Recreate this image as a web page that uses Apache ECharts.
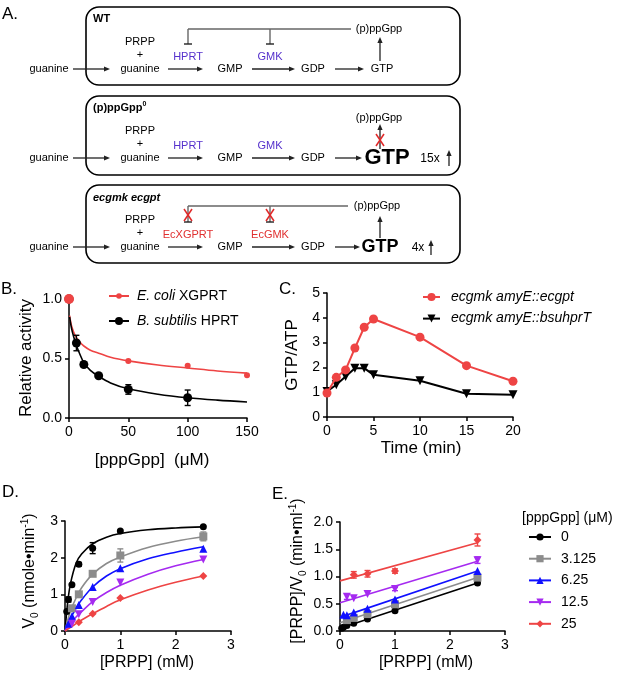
<!DOCTYPE html>
<html lang="en">
<head>
<meta charset="utf-8">
<title>GTP / pppGpp panels</title>
<style>
  * { padding: 0; margin: 0; }
  html, body { background: #fff; width: 617px; height: 677px; overflow: hidden; }
  #fig { position: absolute; left: 0; top: 0; width: 617px; height: 677px; }
</style>
</head>
<body>
<div id="fig"></div>
<script src="https://cdn.jsdelivr.net/npm/echarts@6/dist/echarts.min.js"></script>
<script>
var FONT = "'Liberation Sans', Arial, Helvetica, sans-serif";
var RED = '#ee4444', GRAY = '#8c8c8c', BLUE = '#1010ff', PURPLE = '#a52af0';

// ---- B: relative activity vs [pppGpp] ----
var bDoseEcoli = [0, 50, 100, 150];
var bActEcoli  = [1.0, 0.48, 0.44, 0.36];
var bDoseBsu   = [0, 6.25, 12.5, 25, 50, 100];
var bActBsu    = [1.0, 0.63, 0.45, 0.355, 0.24, 0.17];
var bErrBsu    = [0, 0.065, 0.02, 0.015, 0.04, 0.065];
// fitted curves
var bFitDose   = [0.5, 2, 4, 6.25, 9, 12.5, 18, 25, 35, 50, 75, 100, 125, 150];
var bFitEcoli  = [0.86, 0.78, 0.72, 0.675, 0.64, 0.605, 0.57, 0.545, 0.51, 0.48, 0.445, 0.42, 0.395, 0.377];
var bFitBsu    = [0.85, 0.76, 0.68, 0.61, 0.54, 0.465, 0.4, 0.35, 0.295, 0.245, 0.2, 0.17, 0.15, 0.135];

// ---- C: GTP/ATP over time ----
var cTime    = [0, 1, 2, 3, 4, 5, 10, 15, 20];
var cEcgpt   = [0.97, 1.6, 1.9, 2.78, 3.62, 3.95, 3.22, 2.07, 1.44];
var cBsuhprT = [1.03, 1.3, 1.63, 1.97, 1.97, 1.7, 1.46, 0.94, 0.9];

// ---- D: V0 vs [PRPP] for each [pppGpp] ----
var levels = ['0', '3.125', '6.25', '12.5', '25'];
var dPrpp0  = [0.03125, 0.0625, 0.125, 0.25, 0.5, 1, 2.5];
var dV0_0   = [0.53, 0.86, 1.26, 1.82, 2.26, 2.73, 2.84];
var dErr0   = [0, 0.07, 0, 0.05, 0.15, 0, 0];
var dPrpp3  = [0.125, 0.25, 0.5, 1, 2.5];
var dV0_3   = [0.62, 1.0, 1.56, 2.06, 2.58];
var dErr3   = [0, 0, 0, 0.18, 0.12];
var dPrpp6  = [0.0625, 0.125, 0.25, 0.5, 1, 2.5];
var dV0_6   = [0.2, 0.4, 0.71, 1.2, 1.71, 2.24];
var dPrpp12 = [0.125, 0.25, 0.5, 1, 2.5];
var dV0_12  = [0.2, 0.46, 0.79, 1.32, 1.95];
var dPrpp25 = [0.25, 0.5, 1, 2.5];
var dV0_25  = [0.24, 0.47, 0.9, 1.5];
var dFitX   = [0, 0.05, 0.1, 0.2, 0.3, 0.5, 0.75, 1, 1.5, 2, 2.5];
var dFit0   = [0, 0.8, 1.3, 1.85, 2.1, 2.38, 2.56, 2.66, 2.76, 2.81, 2.84];
var dFit3   = [0, 0.3, 0.55, 0.9, 1.18, 1.55, 1.84, 2.02, 2.28, 2.45, 2.57];
var dFit6   = [0, 0.18, 0.35, 0.62, 0.85, 1.2, 1.5, 1.7, 1.97, 2.15, 2.3];
var dFit12  = [0, 0.1, 0.2, 0.38, 0.53, 0.8, 1.05, 1.25, 1.55, 1.78, 1.95];
var dFit25  = [0, 0.05, 0.1, 0.2, 0.3, 0.47, 0.67, 0.85, 1.12, 1.33, 1.5];

// ---- E: [PRPP]/V0 vs [PRPP] ----
var eY0    = [0.05, 0.07, 0.1, 0.14, 0.22, 0.37, 0.88];
var eY3    = [0.2, 0.24, 0.31, 0.49, 0.98];
var eY6    = [0.3, 0.29, 0.34, 0.41, 0.58, 1.1];
var eY12   = [0.63, 0.6, 0.68, 0.77, 1.3];
var eErr12 = [0.05, 0, 0, 0.03, 0.06];
var eY25   = [1.03, 1.05, 1.1, 1.67];
var eErr25 = [0.06, 0.06, 0.04, 0.11];
var eFitX  = [0, 2.5];
var eFit0  = [0.05, 0.88];
var eFit3  = [0.15, 0.98];
var eFit6  = [0.25, 1.1];
var eFit12 = [0.52, 1.28];
var eFit25 = [0.92, 1.62];

function zip(xs, ys) { return xs.map(function (x, i) { return [x, ys[i]]; }); }
function bars(xs, ys, es) {
  var out = [];
  xs.forEach(function (x, i) { if (es[i]) out.push([x, ys[i] - es[i], ys[i] + es[i]]); });
  return out;
}
function errRender(params, api) {
  var x = api.value(0);
  var a = api.coord([x, api.value(1)]), b = api.coord([x, api.value(2)]);
  var st = { stroke: api.visual('color'), lineWidth: 1.4 };
  return { type: 'group', children: [
    { type: 'line', shape: { x1: a[0], y1: a[1], x2: b[0], y2: b[1] }, style: st },
    { type: 'line', shape: { x1: a[0] - 3, y1: a[1], x2: a[0] + 3, y2: a[1] }, style: st },
    { type: 'line', shape: { x1: b[0] - 3, y1: b[1], x2: b[0] + 3, y2: b[1] }, style: st }
  ] };
}
function errSeries(idx, data, color) {
  return { type: 'custom', xAxisIndex: idx, yAxisIndex: idx, renderItem: errRender,
    encode: { x: 0, y: [1, 2] }, itemStyle: { color: color }, data: data, z: 4 };
}
function fit(idx, name, xs, ys, color, sym, size, rot) {
  return { name: name, type: 'line', xAxisIndex: idx, yAxisIndex: idx, data: zip(xs, ys),
    smooth: 0.35, showSymbol: false, symbol: sym, symbolSize: size, symbolRotate: rot || 0,
    lineStyle: { color: color, width: 1.6 }, itemStyle: { color: color }, z: 3 };
}
function pts(idx, name, xs, ys, color, sym, size, rot) {
  return { name: name, type: 'scatter', xAxisIndex: idx, yAxisIndex: idx, data: zip(xs, ys),
    symbol: sym, symbolSize: size, symbolRotate: rot || 0, itemStyle: { color: color, opacity: 1 }, z: 5 };
}
function axis(idx, max, interval, fmt) {
  return { type: 'value', gridIndex: idx, min: 0, max: max, interval: interval,
    axisLine: { show: true, onZero: false, lineStyle: { color: '#000', width: 1.5 } },
    axisTick: { show: true, length: 4, lineStyle: { color: '#000', width: 1.5 } },
    axisLabel: { color: '#000', fontSize: 14, fontFamily: FONT, margin: 7, formatter: fmt },
    splitLine: { show: false } };
}
function fixed1(v) { return v.toFixed(1); }

// ---- panel A schematic helpers ----
var A = [];
function T(x, y, s, o) {
  o = o || {};
  A.push({ type: 'text', x: x, y: y, rotation: o.rot || 0, silent: true,
    style: { text: s, fill: o.color || '#000', fontSize: o.size || 11, fontFamily: FONT,
      fontWeight: o.weight || 'normal', fontStyle: o.style || 'normal',
      align: o.align || 'center', verticalAlign: 'middle', rich: o.rich } });
}
function L(x1, y1, x2, y2, color, w) {
  A.push({ type: 'line', silent: true, shape: { x1: x1, y1: y1, x2: x2, y2: y2 },
    style: { stroke: color || '#222', lineWidth: w || 1.2 } });
}
function arrow(x1, y1, x2, y2) {
  var dx = x2 - x1, dy = y2 - y1, len = Math.sqrt(dx * dx + dy * dy);
  var ux = dx / len, uy = dy / len, h = 6, hw = 2.6;
  L(x1, y1, x2 - ux * h, y2 - uy * h, '#222', 1.3);
  A.push({ type: 'polygon', silent: true, shape: { points: [[x2, y2],
    [x2 - ux * h - uy * hw, y2 - uy * h + ux * hw], [x2 - ux * h + uy * hw, y2 - uy * h - ux * hw]] },
    style: { fill: '#222' } });
}
function tbar(x, y1, y2) { L(x, y1, x, y2, '#666', 1.4); L(x - 4, y2, x + 4, y2, '#222', 1.4); }
function cross(x, y) { L(x - 4, y - 6, x + 4, y + 6, '#e02828', 1.5); L(x + 4, y - 6, x - 4, y + 6, '#e02828', 1.5); }
function box(y, h) {
  A.push({ type: 'rect', silent: true, shape: { x: 86, y: y, width: 374, height: h, r: 13 },
    style: { fill: 'none', stroke: '#000', lineWidth: 1.6 } });
}
function row(dy, enz1, enz2, enzColor) {
  T(49, 69 + dy, 'guanine'); arrow(73, 69 + dy, 110, 69 + dy);
  T(140, 42 + dy, 'PRPP'); T(140, 55 + dy, '+'); T(140, 69 + dy, 'guanine');
  T(188, 57 + dy, enz1, { color: enzColor }); arrow(168, 69 + dy, 203, 69 + dy);
  T(230, 69 + dy, 'GMP'); T(270, 57 + dy, enz2, { color: enzColor }); arrow(252, 69 + dy, 295, 69 + dy);
  T(313, 69 + dy, 'GDP');
}

T(2, 14, 'A.', { size: 17, align: 'left' });
// WT
box(7, 78);
T(93, 19, 'WT', { weight: 'bold', align: 'left' });
T(379, 29, '(p)ppGpp');
L(351, 29, 188, 29, '#666', 1.4); tbar(188, 29, 44); tbar(270, 29, 44);
arrow(380, 61, 380, 37);
row(0, 'HPRT', 'GMK', '#5530cc');
arrow(335, 69, 364, 69); T(382, 69, 'GTP');
// (p)ppGpp0
box(96, 79);
T(93, 108, '{b|(p)ppGpp}{s|0}', { align: 'left', rich: {
  b: { fontWeight: 'bold', fontSize: 11, fontFamily: FONT, lineHeight: 14 },
  s: { fontWeight: 'bold', fontSize: 7, fontFamily: FONT, verticalAlign: 'top', lineHeight: 8 } } });
T(379, 118, '(p)ppGpp');
arrow(380, 149, 380, 124); cross(380, 140);
row(89, 'HPRT', 'GMK', '#5530cc');
arrow(335, 158, 362, 158); T(387, 158, 'GTP', { weight: 'bold', size: 22 });
T(430, 159, '15x', { size: 12 }); arrow(449, 166, 449, 150);
// ecgmk ecgpt
box(185, 78);
T(93, 198, 'ecgmk ecgpt', { weight: 'bold', style: 'italic', align: 'left' });
T(377, 206, '(p)ppGpp');
L(348, 206, 188, 206, '#666', 1.4); tbar(188, 206, 222); tbar(270, 206, 222);
cross(188, 215); cross(270, 215);
arrow(380, 238, 380, 216);
row(178, 'EcXGPRT', 'EcGMK', '#e03030');
arrow(335, 247, 360, 247); T(380, 247, 'GTP', { weight: 'bold', size: 18 });
T(418, 248, '4x', { size: 12 }); arrow(431, 255, 431, 240);

// panel letters and axis titles
T(1, 289, 'B.', { size: 17, align: 'left' });
T(279, 289, 'C.', { size: 17, align: 'left' });
T(2, 492, 'D.', { size: 17, align: 'left' });
T(272, 494, 'E.', { size: 17, align: 'left' });
T(26, 358, 'Relative activity', { size: 17, rot: Math.PI / 2 });
T(152, 460, '[pppGpp]  (\u03bcM)', { size: 17 });
T(292, 355, 'GTP/ATP', { size: 17, rot: Math.PI / 2 });
T(421, 448, 'Time (min)', { size: 17 });
var subSup = {
  m: { fontSize: 16, fontFamily: FONT, lineHeight: 20 },
  d: { fontSize: 10, fontFamily: FONT, verticalAlign: 'bottom', lineHeight: 10 },
  u: { fontSize: 10, fontFamily: FONT, verticalAlign: 'top', lineHeight: 10 } };
T(30, 571, '{m|V}{d|0}{m| (nmole\u2022min}{u|-1}{m|)}', { rot: Math.PI / 2, rich: subSup });
T(147, 663, '[PRPP] (mM)', { size: 16 });
T(298, 571, '{m|[PRPP]/V}{d|0}{m| (min\u2022ml}{u|-1}{m|)}', { rot: Math.PI / 2, rich: subSup });
T(426, 663, '[PRPP] (mM)', { size: 16 });
T(522, 518, '[pppGpp] (\u03bcM)', { size: 14, align: 'left' });

var chart = echarts.init(document.getElementById('fig'));
var legendText = { color: '#000', fontSize: 14, fontFamily: FONT, rich: { i: { fontStyle: 'italic', fontSize: 14, fontFamily: FONT } } };
function bLegend(name, top, h) {
  return { left: 103, top: top, itemWidth: 20, itemHeight: h, selectedMode: false, data: [name],
    formatter: function (n) { return n === 'E. coli XGPRT' ? '{i|E. coli} XGPRT' : '{i|B. subtilis} HPRT'; },
    textStyle: Object.assign({ padding: [0, 0, 0, 3] }, legendText) };
}
var option = {
  animation: false,
  backgroundColor: '#fff',
  graphic: A,
  grid: [
    { left: 69, top: 299, width: 178, height: 119 },
    { left: 327, top: 293, width: 186, height: 124 },
    { left: 65, top: 521, width: 166, height: 110 },
    { left: 340, top: 522, width: 165, height: 109 }
  ],
  xAxis: [axis(0, 150, 50), axis(1, 20, 5), axis(2, 3, 1), axis(3, 3, 1)],
  yAxis: [axis(0, 1, 0.5, fixed1), axis(1, 5, 1), axis(2, 3, 1), axis(3, 2, 0.5, fixed1)],
  legend: [
    bLegend('E. coli XGPRT', 284, 7),
    bLegend('B. subtilis HPRT', 309, 10),
    { left: 417, top: 285, orient: 'vertical', itemWidth: 17, itemHeight: 10, itemGap: 7.6, selectedMode: false,
      data: ['ecgmk amyE::ecgpt', 'ecgmk amyE::bsuhprT'],
      textStyle: Object.assign({ padding: [0, 0, 0, 6], fontStyle: 'italic' }, legendText) },
    { left: 523, top: 525, orient: 'vertical', itemWidth: 22, itemHeight: 9, itemGap: 7.7, selectedMode: false,
      data: levels,
      textStyle: Object.assign({ padding: [0, 0, 0, 5] }, legendText) }
  ],
  series: [
    // B
    fit(0, 'E. coli XGPRT', bFitDose, bFitEcoli, RED, 'circle', 5),
    fit(0, 'B. subtilis HPRT', bFitDose, bFitBsu, '#000', 'circle', 8),
    errSeries(0, bars(bDoseBsu, bActBsu, bErrBsu), '#000'),
    pts(0, 'B. subtilis HPRT', bDoseBsu, bActBsu, '#000', 'circle', 9),
    pts(0, 'E. coli XGPRT', bDoseEcoli, bActEcoli, RED, 'circle', 6),
    pts(0, 'E. coli XGPRT', [bDoseEcoli[0]], [bActEcoli[0]], RED, 'circle', 10),
    // C
    { name: 'ecgmk amyE::ecgpt', type: 'line', xAxisIndex: 1, yAxisIndex: 1, data: zip(cTime, cEcgpt),
      symbol: 'circle', symbolSize: 9, lineStyle: { color: RED, width: 2 }, itemStyle: { color: RED }, z: 4 },
    { name: 'ecgmk amyE::bsuhprT', type: 'line', xAxisIndex: 1, yAxisIndex: 1, data: zip(cTime, cBsuhprT),
      symbol: 'triangle', symbolRotate: 180, symbolSize: 9, lineStyle: { color: '#000', width: 2 }, itemStyle: { color: '#000' }, z: 3 },
    // D
    fit(2, 'd0', dFitX, dFit0, '#000', 'none', 0),
    fit(2, 'd3', dFitX, dFit3, GRAY, 'none', 0),
    fit(2, 'd6', dFitX, dFit6, BLUE, 'none', 0),
    fit(2, 'd12', dFitX, dFit12, PURPLE, 'none', 0),
    fit(2, 'd25', dFitX, dFit25, RED, 'none', 0),
    errSeries(2, bars(dPrpp0, dV0_0, dErr0), '#000'),
    errSeries(2, bars(dPrpp3, dV0_3, dErr3), GRAY),
    pts(2, 'd0', dPrpp0, dV0_0, '#000', 'circle', 7),
    pts(2, 'd3', dPrpp3, dV0_3, GRAY, 'rect', 8),
    pts(2, 'd6', dPrpp6, dV0_6, BLUE, 'triangle', 8),
    pts(2, 'd12', dPrpp12, dV0_12, PURPLE, 'triangle', 8, 180),
    pts(2, 'd25', dPrpp25, dV0_25, RED, 'diamond', 8),
    // E
    fit(3, '0', eFitX, eFit0, '#000', 'circle', 7),
    fit(3, '3.125', eFitX, eFit3, GRAY, 'rect', 8),
    fit(3, '6.25', eFitX, eFit6, BLUE, 'triangle', 8),
    fit(3, '12.5', eFitX, eFit12, PURPLE, 'triangle', 8, 180),
    fit(3, '25', eFitX, eFit25, RED, 'diamond', 8),
    errSeries(3, bars(dPrpp12, eY12, eErr12), PURPLE),
    errSeries(3, bars(dPrpp25, eY25, eErr25), RED),
    pts(3, '0', dPrpp0, eY0, '#000', 'circle', 7),
    pts(3, '3.125', dPrpp3, eY3, GRAY, 'rect', 8),
    pts(3, '6.25', dPrpp6, eY6, BLUE, 'triangle', 8),
    pts(3, '12.5', dPrpp12, eY12, PURPLE, 'triangle', 8, 180),
    pts(3, '25', dPrpp25, eY25, RED, 'diamond', 8)
  ]
};
chart.setOption(option);
</script>
</body>
</html>
